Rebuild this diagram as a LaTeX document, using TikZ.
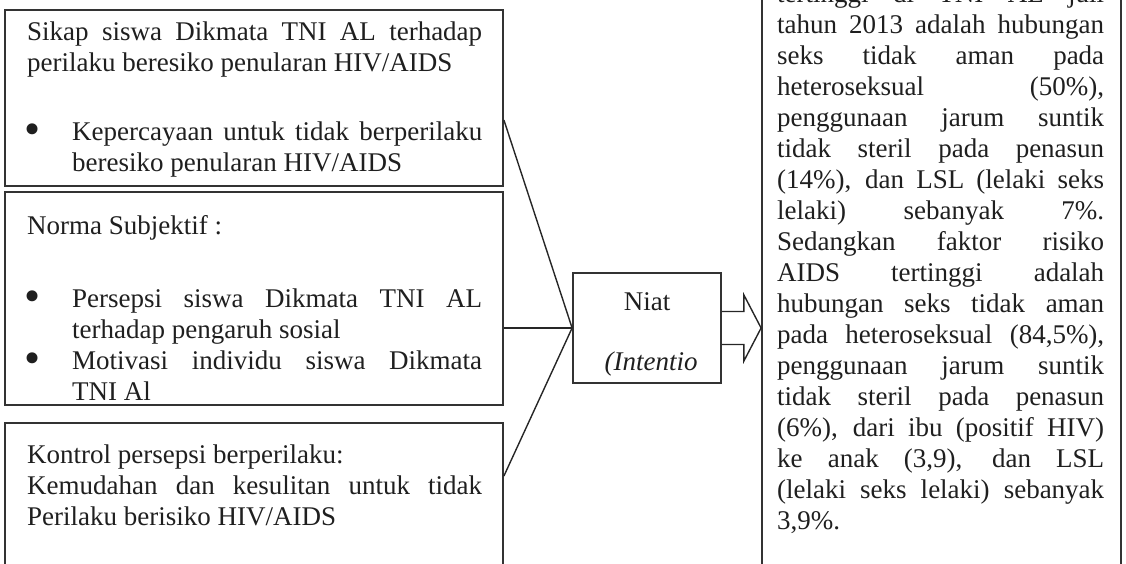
\documentclass[tikz,border=0pt]{standalone}
\usepackage{fontspec}
\setmainfont{Liberation Serif}
\newcommand\jline[2]{\hbox to #1{\spaceskip=.25em plus 1fil\relax #2}}
\newcommand\tblock[1]{\vtop{\baselineskip=31pt\lineskiplimit=-50pt\lineskip=0pt\relax #1}}
\newcommand\bul{\hbox to 10pt{\hss\raisebox{-4pt}{\scalebox{1.7}{\textbullet}}\hss}\hskip 35pt}
\newcommand\ind{\hskip 45pt}
\begin{document}
\begin{tikzpicture}[x=1pt,y=-1pt,
  box/.style={draw=black!80, line width=1.8pt, inner sep=0pt},
  txt/.style={inner sep=0pt, anchor=base west, text=black!88, font=\fontsize{27}{31}\selectfont},
  conn/.style={draw=black!85, line width=1.4pt}]
\useasboundingbox (0,0) rectangle (1126,564);
\clip (0,0) rectangle (1126,564);
% boxes
\node[box, minimum width=498pt, minimum height=176pt] (box1) at (254,98) {};
\node[box, minimum width=498pt, minimum height=213pt] (box2) at (254,298.5) {};
\node[box, minimum width=498pt, minimum height=200pt] (box3) at (254,523) {};
\node[box, minimum width=148pt, minimum height=110pt] (niat) at (647,328) {};
\node[box, minimum width=359pt, minimum height=640pt] (rbox) at (941.5,282) {};
% texts
\node[txt] (t1a) at (27,41) {\tblock{\jline{455pt}{Sikap siswa Dikmata TNI AL terhadap}\hbox{perilaku beresiko penularan HIV/AIDS}}};
\node[txt] (t1b) at (27,141) {\tblock{\hbox{\bul\jline{410pt}{Kepercayaan untuk tidak berperilaku}}\hbox{\ind beresiko penularan HIV/AIDS}}};
\node[txt] (t2a) at (27,234) {Norma Subjektif :};
\node[txt] (t2b) at (27,307) {\tblock{\hbox{\bul\jline{410pt}{Persepsi siswa Dikmata TNI AL}}\hbox{\ind terhadap pengaruh sosial}\hbox{\bul\jline{410pt}{Motivasi individu siswa Dikmata}}\hbox{\ind TNI Al}}};
\node[txt] (t3) at (27,463) {\tblock{\hbox{Kontrol persepsi berperilaku:}\jline{455pt}{Kemudahan dan kesulitan untuk tidak}\hbox{Perilaku berisiko HIV/AIDS}}};
\node[txt, anchor=base] (niatT) at (647,310) {Niat};
\node[txt, anchor=base] (niatI) at (651,370) {\itshape(Intentio};
\node[txt] (rtxt) at (777,2.5) {\tblock{%
\jline{327pt}{tertinggi di TNI AL juli}%
\jline{327pt}{tahun 2013 adalah hubungan}%
\jline{327pt}{seks tidak aman pada}%
\jline{327pt}{heteroseksual (50\%),}%
\jline{327pt}{penggunaan jarum suntik}%
\jline{327pt}{tidak steril pada penasun}%
\jline{327pt}{(14\%), dan LSL (lelaki seks}%
\jline{327pt}{lelaki) sebanyak 7\%.}%
\jline{327pt}{Sedangkan faktor risiko}%
\jline{327pt}{AIDS tertinggi adalah}%
\jline{327pt}{hubungan seks tidak aman}%
\jline{327pt}{pada heteroseksual (84,5\%),}%
\jline{327pt}{penggunaan jarum suntik}%
\jline{327pt}{tidak steril pada penasun}%
\jline{327pt}{(6\%), dari ibu (positif HIV)}%
\jline{327pt}{ke anak (3,9), dan LSL}%
\jline{327pt}{(lelaki seks lelaki) sebanyak}%
\hbox{3,9\%.}}};
% connectors
\draw[conn] ([yshift=-22pt]box1.east) -- (niat.west);
\draw[conn] ([yshift=-29.5pt]box2.east) -- (niat.west);
\draw[conn] ([yshift=47pt]box3.east) -- (niat.west);
\draw[conn, line join=miter] ([yshift=16.5pt]niat.east) -- ([xshift=22pt,yshift=16.5pt]niat.east) -- ([xshift=22pt,yshift=33pt]niat.east) -- (rbox.west |- niat.east) -- ([xshift=22pt,yshift=-33pt]niat.east) -- ([xshift=22pt,yshift=-16.5pt]niat.east) -- ([yshift=-16.5pt]niat.east);
\end{tikzpicture}
\end{document}
